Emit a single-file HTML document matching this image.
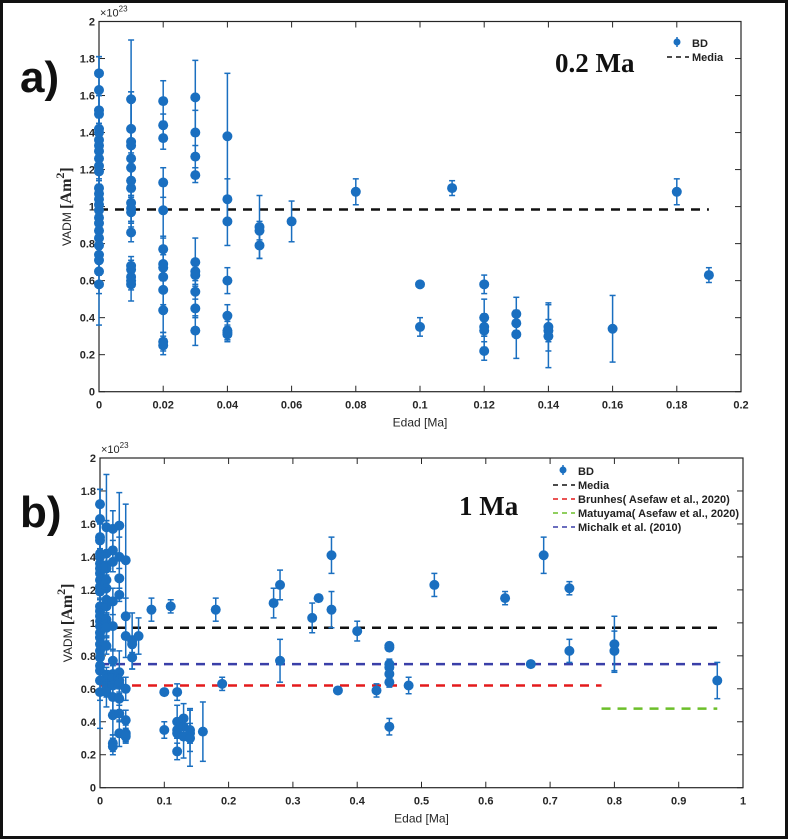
<!DOCTYPE html>
<html><head><meta charset="utf-8"><style>
html,body{margin:0;padding:0;background:#fff}
svg{display:block;font-family:"Liberation Sans",Arial,sans-serif}
</style></head><body>
<svg id="fig" width="788" height="839" viewBox="0 0 788 839">
<rect x="1.5" y="1.5" width="785" height="836" fill="#fff" stroke="#111" stroke-width="3"/>
<text x="20" y="92" font-size="44" font-weight="bold" fill="#111">a)</text>
<text x="20" y="527" font-size="44" font-weight="bold" fill="#111">b)</text>
<g id="pa"></g>
<g id="pb"></g>
</svg>
<script>
// Panel a data: ages (Ma), VADM (x1e23), error
const agesA = [0,0,0,0,0,0,0,0,0,0,0,0,0,0,0,0,0,0,0,0,0,0,0,0,0,0,
 0.01,0.01,0.01,0.01,0.01,0.01,0.01,0.01,0.01,0.01,0.01,0.01,0.01,0.01,0.01,0.01,0.01,
 0.02,0.02,0.02,0.02,0.02,0.02,0.02,0.02,0.02,0.02,0.02,0.02,0.02,
 0.03,0.03,0.03,0.03,0.03,0.03,0.03,0.03,0.03,0.03,
 0.04,0.04,0.04,0.04,0.04,0.04,0.04,0.04,
 0.05,0.05,0.05,0.06,0.08,0.10,0.10,0.11,0.12,0.12,0.12,0.12,0.12,0.13,0.13,0.13,0.14,0.14,0.14,0.16,0.18,0.19];
const vadmA = [1.72,1.63,1.52,1.50,1.42,1.40,1.36,1.33,1.30,1.26,1.22,1.19,1.10,1.07,1.04,1.01,0.98,0.94,0.91,0.87,0.83,0.79,0.74,0.71,0.65,0.58,
 1.58,1.42,1.35,1.33,1.26,1.21,1.14,1.10,1.02,0.99,0.97,0.86,0.68,0.66,0.62,0.60,0.58,
 1.57,1.44,1.37,1.13,0.98,0.77,0.69,0.67,0.62,0.55,0.44,0.27,0.25,
 1.59,1.40,1.27,1.17,0.70,0.65,0.63,0.54,0.45,0.33,
 1.38,1.04,0.92,0.60,0.41,0.33,0.32,0.31,
 0.89,0.87,0.79,0.92,1.08,0.58,0.35,1.10,0.58,0.40,0.35,0.33,0.22,0.42,0.37,0.31,0.35,0.33,0.30,0.34,1.08,0.63];
const errA = [0.09,0.18,0.08,0.10,0.08,0.08,0.07,0.08,0.08,0.07,0.07,0.07,0.08,0.07,0.07,0.07,0.06,0.08,0.08,0.08,0.08,0.08,0.08,0.08,0.12,0.22,
 0.32,0.20,0.27,0.10,0.15,0.08,0.08,0.10,0.10,0.07,0.08,0.05,0.05,0.05,0.05,0.05,0.09,
 0.11,0.06,0.06,0.08,0.15,0.07,0.07,0.07,0.08,0.08,0.12,0.05,0.05,
 0.20,0.12,0.06,0.04,0.13,0.05,0.05,0.08,0.05,0.08,
 0.34,0.11,0.13,0.07,0.06,0.05,0.04,0.04,
 0.17,0.05,0.07,0.11,0.07,0.01,0.05,0.04,0.05,0.10,0.05,0.09,0.05,0.09,0.06,0.13,0.13,0.06,0.17,0.18,0.07,0.04];
// Panel b extra data
const agesB = [0.27,0.28,0.28,0.33,0.34,0.36,0.36,0.37,0.40,0.43,0.45,0.45,0.45,0.45,0.45,0.45,0.45,0.48,0.52,0.63,0.67,0.69,0.73,0.73,0.80,0.80,0.96];
const vadmB = [1.12,1.23,0.77,1.03,1.15,1.41,1.08,0.59,0.95,0.59,0.86,0.85,0.75,0.73,0.69,0.64,0.37,0.62,1.23,1.15,0.75,1.41,1.21,0.83,0.87,0.83,0.65];
const errB = [0.09,0.09,0.13,0.09,0.02,0.11,0.11,0.02,0.06,0.04,0.02,0.02,0.03,0.03,0.03,0.03,0.05,0.05,0.07,0.04,0.01,0.11,0.04,0.07,0.17,0.12,0.11];
const yTicks = [0,0.2,0.4,0.6,0.8,1,1.2,1.4,1.6,1.8,2];
const xTicksA = [0,0.02,0.04,0.06,0.08,0.1,0.12,0.14,0.16,0.18,0.2];
const xTicksB = [0,0.1,0.2,0.3,0.4,0.5,0.6,0.7,0.8,0.9,1];
// reference lines: [value, x0, x1]
const mediaA = [0.984, 0, 0.19];
const mediaB = [0.97, 0, 0.96];
const brunhes = [0.62, 0, 0.78];
const matuyama = [0.48, 0.78, 0.96];
const michalk = [0.75, 0, 0.96];

const NS="http://www.w3.org/2000/svg";
function mk(p,t,a){const e=document.createElementNS(NS,t);for(const k in a)e.setAttribute(k,a[k]);p.appendChild(e);return e;}
const BLUE="#1a6fc0";

function panel(g, L,R,T,B, xmax, xticks, xfmt, ages, vadm, errs, lines){
  const X=v=>L+(v/xmax)*(R-L), Y=v=>B-(v/2)*(B-T);
  const f=mk(g,'rect',{x:L,y:T,width:R-L,height:B-T,fill:'none',stroke:'#262626','stroke-width':1.2});
  
  xticks.forEach(t=>{
    const x=X(t);
    mk(g,'line',{x1:x,x2:x,y1:B,y2:B-6,stroke:'#262626'});
    mk(g,'line',{x1:x,x2:x,y1:T,y2:T+6,stroke:'#262626'});
    const tx=mk(g,'text',{x:x,y:B+17,'font-size':11,'font-weight':'bold','text-anchor':'middle',fill:'#262626'});
    tx.textContent=xfmt(t);
    
  });
  yTicks.forEach(t=>{
    const y=Y(t);
    mk(g,'line',{x1:L,x2:L+6,y1:y,y2:y,stroke:'#262626'});
    mk(g,'line',{x1:R,x2:R-6,y1:y,y2:y,stroke:'#262626'});
    const tx=mk(g,'text',{x:L-4,y:y+4,'font-size':11,'font-weight':'bold','text-anchor':'end',fill:'#262626'});
    tx.textContent=String(t);
    
  });
  const ex=mk(g,'text',{x:L+1,y:T-5,'font-size':11,fill:'#262626'});
  ex.innerHTML='×10<tspan dy="-5" font-size="8">23</tspan>';
  
  lines.forEach(l=>{
    const ln=mk(g,'line',{x1:X(l.v[1]),x2:X(l.v[2]),y1:Y(l.v[0]),y2:Y(l.v[0]),stroke:l.c,'stroke-width':2.5,'stroke-dasharray':'9,7'});
    
  });
  for(let i=0;i<ages.length;i++){
    const x=X(ages[i]),y=Y(vadm[i]),y1=Y(vadm[i]+errs[i]),y2=Y(vadm[i]-errs[i]);
    const pg=mk(g,'g',{});
    
    mk(pg,'line',{x1:x,x2:x,y1:y1,y2:y2,stroke:BLUE,'stroke-width':1.5});
    mk(pg,'line',{x1:x-3,x2:x+3,y1:y1,y2:y1,stroke:BLUE,'stroke-width':1.5});
    mk(pg,'line',{x1:x-3,x2:x+3,y1:y2,y2:y2,stroke:BLUE,'stroke-width':1.5});
    mk(pg,'circle',{cx:x,cy:y,r:5,fill:BLUE});
  }
  const xl=mk(g,'text',{x:(L+R)/2,y:B+35,'font-size':12,'text-anchor':'middle',fill:'#262626'});
  xl.textContent='Edad [Ma]';
  
  const cy=(T+B)/2, cx=L-28;
  const yl=mk(g,'text',{x:cx,y:cy,'text-anchor':'middle',fill:'#262626',transform:`rotate(-90 ${cx} ${cy})`});
  yl.innerHTML='<tspan font-size="12">VADM </tspan><tspan font-family="Liberation Serif,serif" font-weight="bold" font-size="16">[Am<tspan dy="-7" font-size="12">2</tspan><tspan dy="7">]</tspan></tspan>';
  
}
const pa=document.getElementById('pa'), pb=document.getElementById('pb');
panel(pa,99,741,21.5,391.7,0.2,xTicksA,t=>String(+t.toFixed(2)),agesA,vadmA,errA,
 [{v:mediaA,c:'#111',n:'media-line'}]);
panel(pb,100,743,458,787.7,1,xTicksB,t=>String(+t.toFixed(1)),agesA.concat(agesB),vadmA.concat(vadmB),errA.concat(errB),
 [{v:mediaB,c:'#111',n:'media-line'},{v:michalk,c:'#3a3fa8',n:'michalk-line'},{v:brunhes,c:'#e41a1c',n:'brunhes-line'},{v:matuyama,c:'#6cbf2a',n:'matuyama-line'}]);

function legend(g,x,y,items){
  items.forEach((it,i)=>{
    const yy=y+i*14;
    const lg=mk(g,'g',{});
    
    if(it.m){
      mk(lg,'line',{x1:x+10,x2:x+10,y1:yy-6,y2:yy+4,stroke:BLUE,'stroke-width':1.5});
      mk(lg,'circle',{cx:x+10,cy:yy-1,r:3.5,fill:BLUE});
    } else {
      mk(lg,'line',{x1:x,x2:x+22,y1:yy,y2:yy,stroke:it.c,'stroke-width':1.5,'stroke-dasharray':'5,4'});
    }
    const t=mk(lg,'text',{x:x+25,y:yy+4,'font-size':11,'font-weight':'bold',fill:'#222'});
    t.textContent=it.t;
  });
}
legend(pa,667,43,[{m:1,t:'BD'},{c:'#111',t:'Media'}]);
legend(pb,553,471,[{m:1,t:'BD'},{c:'#111',t:'Media'},{c:'#e41a1c',t:'Brunhes( Asefaw et al., 2020)'},{c:'#6cbf2a',t:'Matuyama( Asefaw et al., 2020)'},{c:'#3a3fa8',t:'Michalk et al. (2010)'}]);
const ta=mk(pa,'text',{x:555,y:72,'font-size':27,'font-weight':'bold','font-family':'Liberation Serif,serif',fill:'#111'});
ta.textContent='0.2 Ma';

const tb=mk(pb,'text',{x:459,y:515,'font-size':27,'font-weight':'bold','font-family':'Liberation Serif,serif',fill:'#111'});
tb.textContent='1 Ma';

</script>
</body></html>
